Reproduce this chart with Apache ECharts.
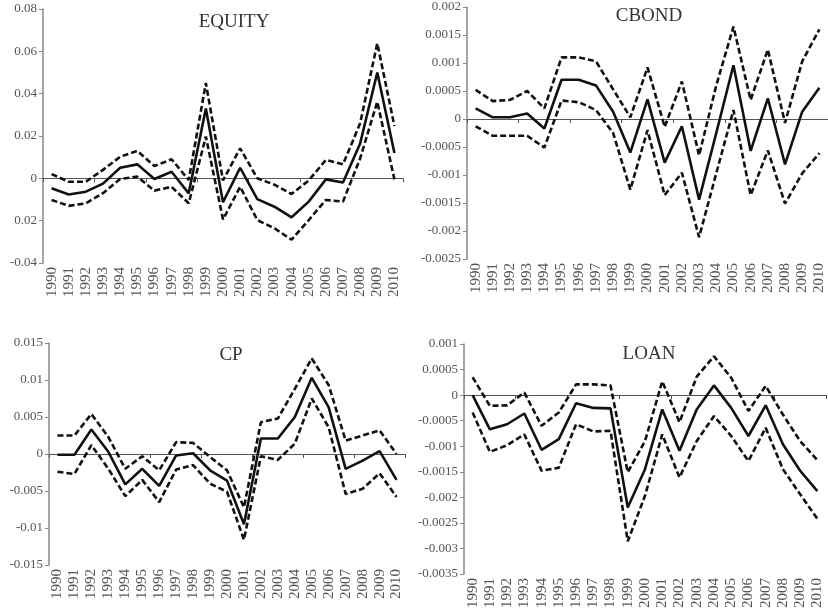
<!DOCTYPE html>
<html>
<head>
<meta charset="utf-8">
<script src="https://cdn.jsdelivr.net/npm/echarts@6/dist/echarts.min.js"></script>
<style>
  html, body { margin: 0; padding: 0; background: #fff; }
  #chart { width: 828px; height: 611px; }
</style>
</head>
<body>
<div id="chart"></div>
<script>
// Years on the category axis
const years = ['1990','1991','1992','1993','1994','1995','1996','1997','1998','1999','2000',
               '2001','2002','2003','2004','2005','2006','2007','2008','2009','2010'];

// EQUITY: estimate with upper / lower bands
const equityMid = [-0.0047,-0.0076,-0.0063,-0.0025,0.0050,0.0066,-0.0003,0.0031,-0.0071,0.0330,-0.0113,
                   0.0050,-0.0098,-0.0134,-0.0184,-0.0110,-0.0005,-0.0020,0.0165,0.0500,0.0120];
const equityUp  = [0.0020,-0.0016,-0.0016,0.0040,0.0102,0.0130,0.0058,0.0090,-0.0008,0.0450,-0.0010,
                   0.0142,0.0000,-0.0030,-0.0074,-0.0010,0.0087,0.0066,0.0260,0.0638,0.0247];
const equityLow = [-0.0102,-0.0130,-0.0118,-0.0070,-0.0003,0.0008,-0.0058,-0.0040,-0.0118,0.0197,-0.0194,
                   -0.0040,-0.0197,-0.0236,-0.0290,-0.0197,-0.0102,-0.0110,0.0094,0.0362,-0.0005];
const equityTicks = ['-0.04','0.02','0','0.02','0.04','0.06','0.08'];

// CBOND
const cbondMid = [0.00019,0.00003,0.00003,0.00010,-0.00017,0.00070,0.00070,0.00060,0.00013,-0.00060,0.00035,
                  -0.00078,-0.00013,-0.00144,-0.00025,0.00096,-0.00057,0.00037,-0.00081,0.00013,0.00056];
const cbondUp  = [0.00052,0.00032,0.00034,0.00050,0.00019,0.00110,0.00110,0.00103,0.00053,0.00003,0.00092,
                  -0.00014,0.00067,-0.00065,0.00060,0.00165,0.00034,0.00124,-0.00007,0.00103,0.00160];
const cbondLow = [-0.00013,-0.00030,-0.00030,-0.00030,-0.00051,0.00033,0.00030,0.00016,-0.00025,-0.00126,-0.00020,
                  -0.00136,-0.00096,-0.00211,-0.00097,0.00016,-0.00136,-0.00056,-0.00151,-0.00097,-0.00061];
const cbondTicks = ['-0.0025','-0.002','-0.0015','-0.001','-0.0005','0','0.0005','0.001','0.0015','0.002'];

// CP
const cpMid = [-0.0001,-0.0001,0.0033,0.0003,-0.0041,-0.0020,-0.0043,-0.0002,0.0001,-0.0022,-0.0036,
               -0.0095,0.0021,0.0021,0.0050,0.0103,0.0063,-0.0020,-0.0009,0.0004,-0.0035];
const cpUp  = [0.0025,0.0025,0.0054,0.0023,-0.0020,-0.0003,-0.0022,0.0016,0.0015,-0.0004,-0.0022,
               -0.0072,0.0043,0.0048,0.0088,0.0129,0.0093,0.0018,0.0025,0.0032,0.0000];
const cpLow = [-0.0024,-0.0027,0.0012,-0.0020,-0.0057,-0.0035,-0.0065,-0.0021,-0.0015,-0.0040,-0.0051,
               -0.0116,-0.0003,-0.0008,0.0014,0.0075,0.0036,-0.0054,-0.0047,-0.0026,-0.0058];
const cpTicks = ['-0.015','-0.01','-0.005','0','0.005','0.01','0.015'];

// LOAN
const loanMid = [0.00000,-0.00067,-0.00057,-0.00036,-0.00107,-0.00086,-0.00016,-0.00025,-0.00026,-0.00220,-0.00145,
                 -0.00028,-0.00109,-0.00028,0.00019,-0.00025,-0.00080,-0.00020,-0.00096,-0.00148,-0.00188];
const loanUp  = [0.00035,-0.00021,-0.00020,0.00005,-0.00060,-0.00034,0.00021,0.00021,0.00019,-0.00151,-0.00090,
                 0.00027,-0.00053,0.00036,0.00076,0.00034,-0.00031,0.00018,-0.00038,-0.00090,-0.00127];
const loanLow = [-0.00034,-0.00111,-0.00098,-0.00077,-0.00148,-0.00142,-0.00057,-0.00071,-0.00070,-0.00286,-0.00197,
                 -0.00077,-0.00161,-0.00090,-0.00041,-0.00080,-0.00129,-0.00064,-0.00145,-0.00194,-0.00242];
const loanTicks = ['-0.0035','-0.003','-0.0025','-0.002','-0.0015','-0.001','-0.0005','0','0.0005','0.001'];

const panels = [
  { title: 'EQUITY', mid: equityMid, up: equityUp, low: equityLow, ticks: equityTicks,
    min: -0.04, max: 0.08, step: 0.02,
    grid: { left: 43, top: 9, width: 360, height: 254 }, titlePos: { x: 229, y: 8 } },
  { title: 'CBOND', mid: cbondMid, up: cbondUp, low: cbondLow, ticks: cbondTicks,
    min: -0.0025, max: 0.002, step: 0.0005,
    grid: { left: 467, top: 7, width: 362, height: 252 }, titlePos: { x: 644, y: 2 } },
  { title: 'CP', mid: cpMid, up: cpUp, low: cpLow, ticks: cpTicks,
    min: -0.015, max: 0.015, step: 0.005,
    grid: { left: 49, top: 343, width: 356, height: 222 }, titlePos: { x: 226, y: 341 } },
  { title: 'LOAN', mid: loanMid, up: loanUp, low: loanLow, ticks: loanTicks,
    min: -0.0035, max: 0.001, step: 0.0005,
    grid: { left: 464, top: 344, width: 362, height: 232 }, titlePos: { x: 644, y: 340 } }
];

const FONT = '"Liberation Serif", "DejaVu Serif", serif';
const grids = [], xAxes = [], yAxes = [], series = [], titles = [];

panels.forEach((p, i) => {
  grids.push(Object.assign({ containLabel: false }, p.grid));
  titles.push({
    text: p.title, left: p.titlePos.x, top: p.titlePos.y, textAlign: 'center',
    textStyle: { fontFamily: FONT, fontSize: 19, fontWeight: 'normal', color: '#333' }
  });
  // bottom axis carrying the year labels
  xAxes.push({
    type: 'category', gridIndex: i, data: years, position: 'bottom', boundaryGap: true,
    axisLine: { show: false, onZero: false }, axisTick: { show: false },
    axisLabel: { rotate: 90, interval: 0, fontFamily: FONT, fontSize: 15, color: '#555', margin: 4 }
  });
  // zero line with boundary ticks
  xAxes.push({
    type: 'category', gridIndex: i, data: years, position: 'bottom', boundaryGap: true,
    axisLine: { show: true, onZero: true, lineStyle: { color: '#555', width: 1 } },
    axisTick: { show: true, length: 4, lineStyle: { color: '#555' } },
    axisLabel: { show: false }
  });
  const ticks = p.ticks, lo = p.min, st = p.step;
  yAxes.push({
    type: 'value', gridIndex: i, min: p.min, max: p.max, interval: p.step,
    splitLine: { show: false },
    axisLine: { show: true, lineStyle: { color: '#888', width: 1.5 } },
    axisTick: { show: true, length: 4, lineStyle: { color: '#888' } },
    axisLabel: {
      fontFamily: FONT, fontSize: 13, color: '#555', margin: 6,
      formatter: v => ticks[Math.round((v - lo) / st)]
    }
  });
  const xi = i * 2;
  const base = { type: 'line', xAxisIndex: xi, yAxisIndex: i, symbol: 'none', silent: true, animation: false };
  series.push(Object.assign({}, base, { name: p.title + ' upper', data: p.up,
    lineStyle: { color: '#111', width: 2.6, type: [6, 3] } }));
  series.push(Object.assign({}, base, { name: p.title + ' lower', data: p.low,
    lineStyle: { color: '#111', width: 2.6, type: [6, 3] } }));
  series.push(Object.assign({}, base, { name: p.title, data: p.mid,
    lineStyle: { color: '#111', width: 2.6, type: 'solid' } }));
});

const chart = echarts.init(document.getElementById('chart'), null, { renderer: 'canvas' });
chart.setOption({
  backgroundColor: '#fff',
  animation: false,
  title: titles,
  grid: grids,
  xAxis: xAxes,
  yAxis: yAxes,
  series: series
});
</script>
</body>
</html>
